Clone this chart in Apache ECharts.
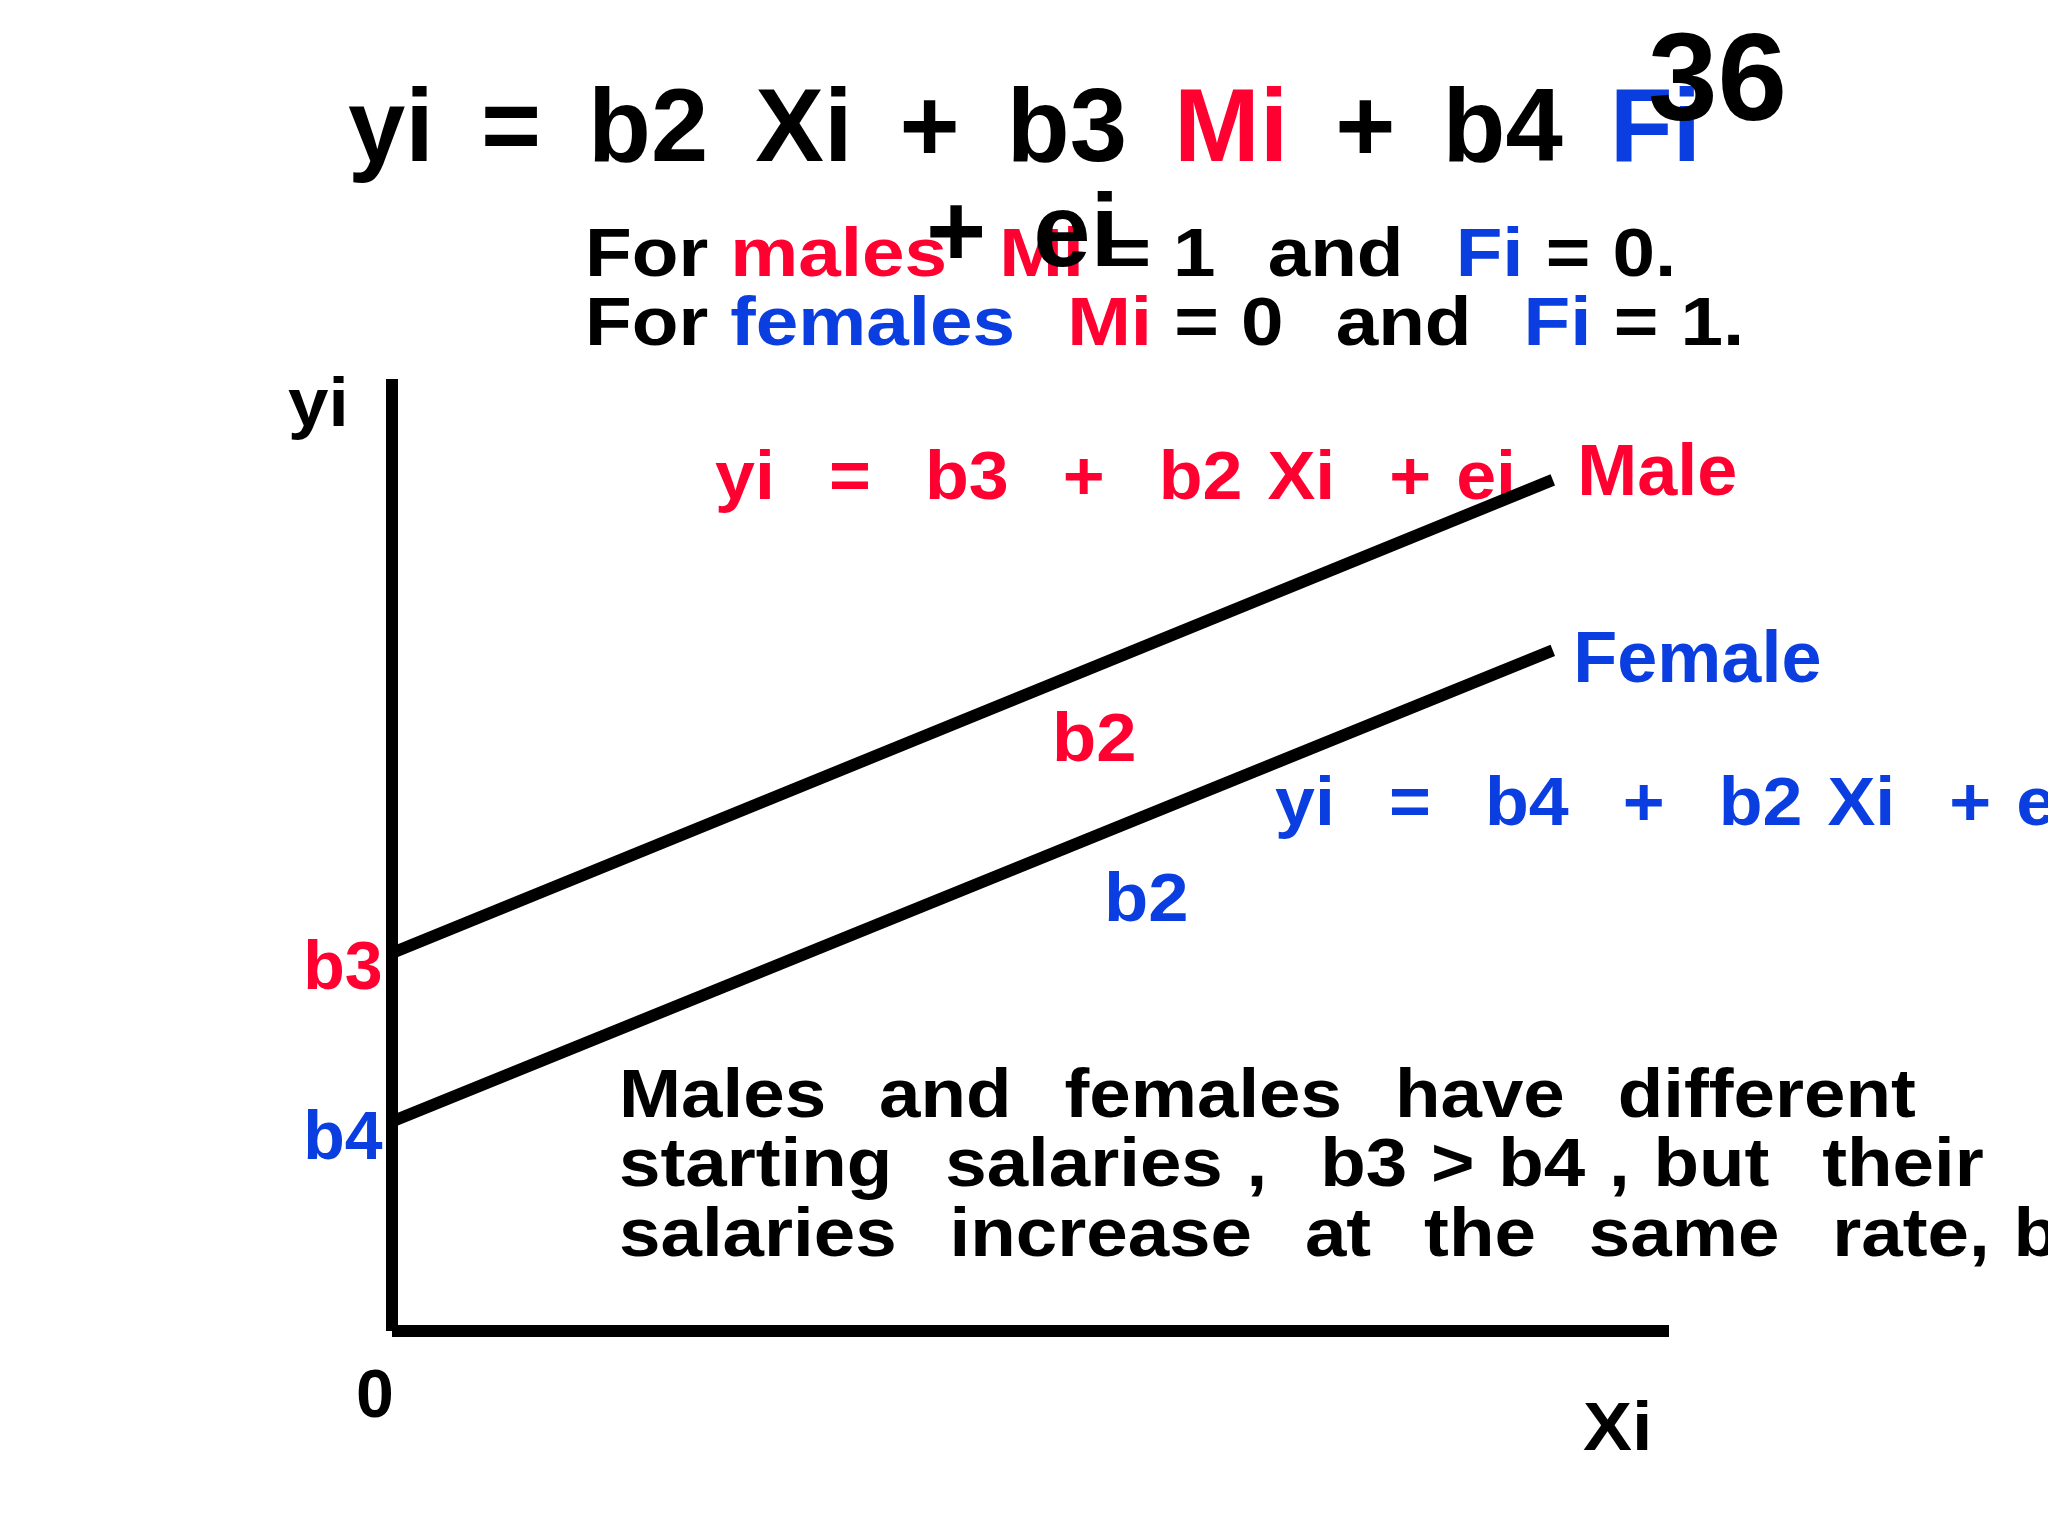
<!DOCTYPE html>
<html>
<head>
<meta charset="utf-8">
<title>Male and female salary lines</title>
<script src="https://cdn.jsdelivr.net/npm/echarts@6/dist/echarts.min.js"></script>
<style>
  html, body { margin: 0; padding: 0; background: #fff; }
  #chart { width: 2048px; height: 1536px; }
</style>
</head>
<body>
<div id="chart"></div>
<script>
// Chart data: two parallel lines, same slope, different intercepts
const xValues = [0, 90.9];
const maleValues = [39.7, 89.4];
const femaleValues = [22.0, 71.5];
const maleLabels = ["b3", "Male"];
const femaleLabels = ["b4", "Female"];

// Slide texts ("r:" red word, "b:" blue word, double space = wide gap)
const titleText = "yi = b2 Xi + b3 r:Mi + b4 b:Fi";
const titleWrap = "+ ei";
const pageNumber = "36";
const maleRule = "For r:males  r:Mi = 1  and  b:Fi = 0.";
const femaleRule = "For b:females  r:Mi = 0  and  b:Fi = 1.";
const maleEquation = "yi  =  b3  +  b2 Xi  + ei";
const femaleEquation = "yi  =  b4  +  b2 Xi  + ei";
const slopeLabel = "b2";
const noteLines = [
  "Males  and  females  have  different",
  "starting  salaries ,  b3 > b4 , but  their",
  "salaries  increase  at  the  same  rate, b2"
];
const yName = "yi";
const xName = "Xi";
const originLabel = "0";

const RED = "#ff0030";
const BLUE = "#0a3ee0";
const FONT = '"Liberation Sans", Arial, sans-serif';

// Turns the little markup above into echarts rich text
function toRich(str) {
  return str
    .split(/( +)/)
    .filter((p) => p !== "")
    .map((p) => {
      if (p[0] === " ") return p.length > 1 ? "{d| }" : "{s| }";
      const m = p.match(/^([rb]):(.+)$/);
      return m ? "{" + m[1] + "|" + m[2] + "}" : "{k|" + p + "}";
    })
    .join("");
}

// One line of text, placed by its left edge and baseline
function textLine(str, x, baseline, size, opts) {
  const o = Object.assign(
    { color: "#000", gap: 0.3 * size, wide: 0.7 * size, sx: 1, z: 1 },
    opts
  );
  const font = "bold " + size + "px " + FONT;
  return {
    type: "text",
    x: x,
    y: baseline - 0.277 * size,
    scaleX: o.sx,
    z: o.z,
    silent: true,
    style: {
      text: toRich(str),
      font: font,
      fill: o.color,
      align: "left",
      verticalAlign: "middle",
      rich: {
        k: { font: font, fill: o.color },
        r: { font: font, fill: RED },
        b: { font: font, fill: BLUE },
        s: { font: font, width: o.gap },
        d: { font: font, width: o.wide }
      }
    }
  };
}

// Line data with a label at each end
function lineData(values, labels, color, ends) {
  return xValues.map((x, i) => {
    const e = ends[i];
    return {
      value: [x, values[i]],
      label: {
        show: true,
        formatter: labels[i],
        position: i === 0 ? "left" : "right",
        distance: e.distance,
        offset: [0, e.dy],
        color: color,
        fontFamily: FONT,
        fontWeight: "bold",
        fontSize: e.size
      }
    };
  });
}

const chart = echarts.init(document.getElementById("chart"));

const note = { sx: 1.08, gap: 22, wide: 49 };
const eq = { sx: 1.04, gap: 24, wide: 52 };
const axisStyle = { color: "#000", width: 12, cap: "butt" };

const option = {
  animation: false,
  backgroundColor: "#fff",
  grid: { left: 392, top: 379, width: 1277, height: 952 },
  xAxis: {
    type: "value",
    min: 0,
    max: 100,
    axisLine: { show: true, lineStyle: axisStyle },
    axisTick: { show: false },
    axisLabel: { show: false },
    splitLine: { show: false }
  },
  yAxis: {
    type: "value",
    min: 0,
    max: 100,
    axisLine: { show: true, lineStyle: axisStyle },
    axisTick: { show: false },
    axisLabel: { show: false },
    splitLine: { show: false }
  },
  series: [
    {
      name: "Male",
      type: "line",
      silent: true,
      symbol: "circle",
      symbolSize: 1,
      itemStyle: { color: "rgba(0,0,0,0)" },
      lineStyle: { color: "#000", width: 12, cap: "butt" },
      data: lineData(maleValues, maleLabels, RED, [
        { distance: 9, dy: 17, size: 68 },
        { distance: 24, dy: -5, size: 72 }
      ])
    },
    {
      name: "Female",
      type: "line",
      silent: true,
      symbol: "circle",
      symbolSize: 1,
      itemStyle: { color: "rgba(0,0,0,0)" },
      lineStyle: { color: "#000", width: 12, cap: "butt" },
      data: lineData(femaleValues, femaleLabels, BLUE, [
        { distance: 9, dy: 19, size: 68 },
        { distance: 20, dy: 12, size: 72 }
      ])
    }
  ],
  graphic: [
    textLine(titleText, 348, 161, 103, { gap: 47, z: 1 }),
    textLine(pageNumber, 1648, 120, 125, { z: 2 }),
    textLine(maleRule, 585, 276, 69, { sx: 1.108, gap: 20, wide: 47, z: 1 }),
    textLine(femaleRule, 585, 345, 69, { sx: 1.108, gap: 20, wide: 47, z: 1 }),
    textLine(titleWrap, 926, 266, 103, { gap: 47, z: 3 }),
    textLine(maleEquation, 715, 499, 69, Object.assign({ color: RED }, eq)),
    textLine(femaleEquation, 1275, 825, 69, Object.assign({ color: BLUE }, eq)),
    textLine(slopeLabel, 1052, 761, 69, { color: RED, sx: 1.05 }),
    textLine(slopeLabel, 1104, 921, 69, { color: BLUE, sx: 1.05 }),
    textLine(noteLines[0], 619, 1117, 69, note),
    textLine(noteLines[1], 619, 1186, 69, note),
    textLine(noteLines[2], 619, 1256, 69, note),
    textLine(yName, 288, 426, 68, { sx: 1.07 }),
    textLine(originLabel, 356, 1417, 68),
    textLine(xName, 1583, 1450, 68, { sx: 1.08 })
  ]
};

chart.setOption(option);
window.addEventListener("resize", chart.resize);
</script>
</body>
</html>
